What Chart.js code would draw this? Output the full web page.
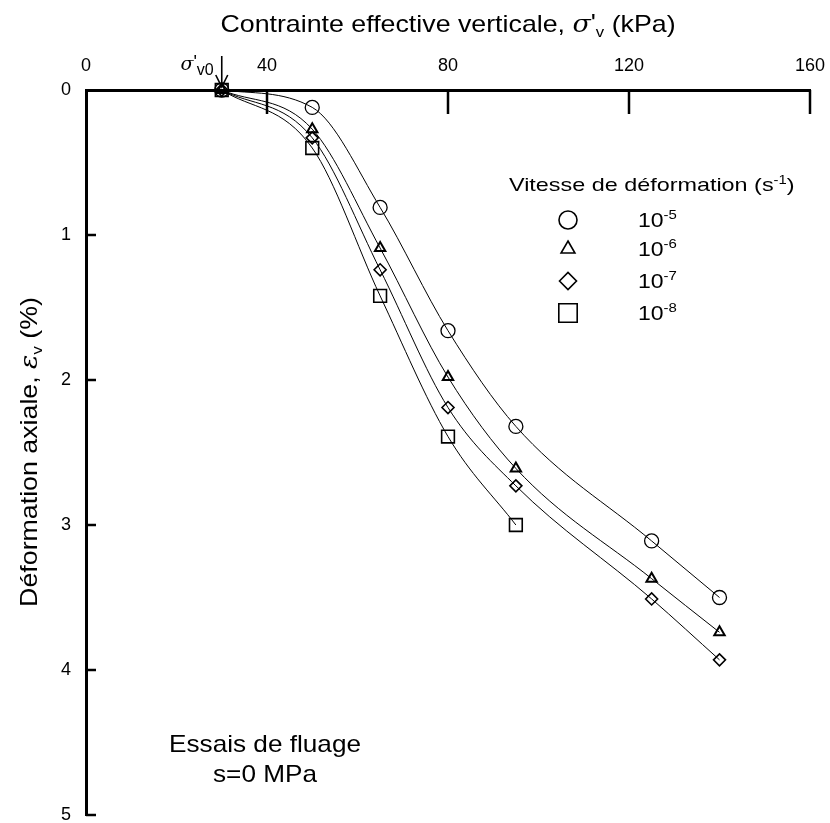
<!DOCTYPE html>
<html>
<head>
<meta charset="utf-8">
<script src="https://cdn.jsdelivr.net/npm/chart.js@4.4.1/dist/chart.umd.min.js"></script>
<style>
  html, body { margin: 0; padding: 0; background: #fff; }
  #wrap { width: 830px; height: 823px; }
</style>
</head>
<body>
<div id="wrap"><canvas id="chart" width="830" height="823"></canvas></div>
<script>
// data
const stress = [30, 50, 65, 80, 95, 125, 140];
const strainE5 = [0, 0.12, 0.81, 1.66, 2.32, 3.11, 3.50];
const strainE6 = [0, 0.27, 1.09, 1.98, 2.61, 3.37, 3.74];
const strainE7 = [0, 0.33, 1.24, 2.19, 2.73, 3.51, 3.93];
const strainE8 = [0, 0.40, 1.42, 2.39, 3.00];
const rateExp = ['-5', '-6', '-7', '-8'];
const xTicks = [0, 40, 80, 120, 160];
const yTicks = [0, 1, 2, 3, 4, 5];
const sigmaV0 = 30;

const FONT = '"Liberation Sans", Arial, sans-serif';
const SERIF_I = 'italic 24px "DejaVu Serif", serif';
const toPts = ys => ys.map((y, i) => ({ x: stress[i], y: y }));

const markers = [
  { style: 'circle', radius: 7, width: 1.3 },
  { style: 'triangle', radius: 6, width: 2 },
  { style: 'rectRot', radius: 6, width: 1.6 },
  { style: 'rect', radius: 9, width: 1.6 }
];
const series = [strainE5, strainE6, strainE7, strainE8];

const datasets = series.map((s, i) => ({
  label: '10' + rateExp[i],
  data: toPts(s),
  showLine: true,
  borderColor: '#000',
  borderWidth: 1,
  cubicInterpolationMode: 'monotone',
  pointStyle: markers[i].style,
  pointRadius: markers[i].radius,
  pointBorderWidth: markers[i].width,
  pointBorderColor: '#000',
  pointBackgroundColor: 'rgba(0,0,0,0)',
  clip: false
}));

// text made of pieces (sub/superscripts, italic), sx = horizontal stretch
function richText(ctx, parts, x, y, align, sx) {
  sx = sx || 1;
  let total = 0;
  parts.forEach(p => { ctx.font = p.font; total += ctx.measureText(p.t).width; });
  let cx = align === 'center' ? -total / 2 : (align === 'right' ? -total : 0);
  ctx.save();
  ctx.translate(x, y);
  ctx.scale(sx, 1);
  ctx.textAlign = 'left';
  ctx.textBaseline = 'alphabetic';
  parts.forEach(p => {
    ctx.font = p.font;
    ctx.fillText(p.t, cx, p.dy || 0);
    cx += ctx.measureText(p.t).width;
  });
  ctx.restore();
}

const decor = {
  id: 'decor',
  afterDraw(chart) {
    const ctx = chart.ctx;
    const xs = chart.scales.x, ys = chart.scales.y;
    ctx.save();
    ctx.fillStyle = '#000';
    ctx.strokeStyle = '#000';

    // inward ticks
    ctx.lineWidth = 2.5;
    xTicks.slice(1).forEach(v => {
      const px = xs.getPixelForValue(v);
      ctx.beginPath(); ctx.moveTo(px, ys.top); ctx.lineTo(px, ys.top + 24); ctx.stroke();
    });
    yTicks.slice(1).forEach(v => {
      const py = ys.getPixelForValue(v);
      ctx.beginPath(); ctx.moveTo(xs.left, py); ctx.lineTo(xs.left + 10, py); ctx.stroke();
    });

    // x title
    const big = '24px ' + FONT;
    richText(ctx, [
      { t: 'Contrainte effective verticale, ', font: big },
      { t: 'σ', font: SERIF_I },
      { t: "'", font: big, dy: -1 },
      { t: 'v', font: '15px ' + FONT, dy: 5 },
      { t: ' (kPa)', font: big }
    ], 448, 32, 'center', 1.115);

    // y title
    ctx.save();
    ctx.translate(37, 452);
    ctx.rotate(-Math.PI / 2);
    richText(ctx, [
      { t: 'Déformation axiale, ', font: big },
      { t: 'ε', font: SERIF_I },
      { t: 'v', font: '15px ' + FONT, dy: 5 },
      { t: ' (%)', font: big }
    ], 0, 0, 'center', 1.115);
    ctx.restore();

    // sigma'v0 marker
    const px0 = xs.getPixelForValue(sigmaV0);
    richText(ctx, [
      { t: 'σ', font: 'italic 19px "DejaVu Serif", serif' },
      { t: "'", font: '18px ' + FONT, dy: -2 },
      { t: 'v0', font: '16px ' + FONT, dy: 5 }
    ], px0 - 8, 70, 'right');
    ctx.lineWidth = 1.6;
    ctx.beginPath(); ctx.moveTo(px0, ys.top - 34); ctx.lineTo(px0, ys.top - 3); ctx.stroke();
    ctx.beginPath();
    ctx.moveTo(px0 - 6, ys.top - 15); ctx.lineTo(px0, ys.top - 3); ctx.lineTo(px0 + 6, ys.top - 15);
    ctx.stroke();

    // legend
    richText(ctx, [
      { t: 'Vitesse de déformation (s', font: '19px ' + FONT },
      { t: '-1', font: '12px ' + FONT, dy: -7 },
      { t: ')', font: '19px ' + FONT }
    ], 509, 191, 'left', 1.23);
    const rowY = [220, 249, 281, 313];
    const legMarks = [
      { pointStyle: 'circle', radius: 9, borderWidth: 1.6 },
      { pointStyle: 'triangle', radius: 8, borderWidth: 2.4 },
      { pointStyle: 'rectRot', radius: 8.5, borderWidth: 2.2 },
      { pointStyle: 'rect', radius: 13, borderWidth: 2 }
    ];
    rowY.forEach((yy, i) => {
      ctx.strokeStyle = '#000';
      ctx.fillStyle = 'rgba(0,0,0,0)';
      Chart.helpers.drawPoint(ctx, Object.assign({ rotation: 0 }, legMarks[i]), 568, yy);
      ctx.fillStyle = '#000';
      richText(ctx, [
        { t: '10', font: '20px ' + FONT },
        { t: rateExp[i], font: '13px ' + FONT, dy: -8 }
      ], 638, yy + 7, 'left', 1.15);
    });

    // note
    richText(ctx, [{ t: 'Essais de fluage', font: big }], 265, 752, 'center', 1.09);
    richText(ctx, [{ t: 's=0 MPa', font: big }], 265, 782, 'center', 1.09);

    ctx.restore();
  }
};

new Chart(document.getElementById('chart'), {
  type: 'scatter',
  data: { datasets: datasets },
  options: {
    responsive: false,
    animation: false,
    layout: { autoPadding: false, padding: { left: 0, top: 0, right: 20, bottom: 8 } },
    plugins: { legend: { display: false }, tooltip: { enabled: false } },
    scales: {
      x: {
        type: 'linear',
        position: 'top',
        min: 0, max: 160,
        afterBuildTicks: s => { s.ticks = xTicks.map(v => ({ value: v })); },
        afterFit: s => { s.height = 90; s.paddingLeft = 0; s.paddingRight = 0; },
        grid: { display: false, drawTicks: false },
        border: { display: true, width: 3, color: '#000' },
        ticks: { color: '#000', font: { family: FONT, size: 18 }, padding: 13 }
      },
      y: {
        type: 'linear',
        reverse: true,
        min: 0, max: 5,
        afterBuildTicks: s => { s.ticks = yTicks.map(v => ({ value: v })); },
        afterFit: s => { s.width = 86; s.paddingTop = 0; s.paddingBottom = 0; },
        grid: { display: false, drawTicks: false },
        border: { display: true, width: 3, color: '#000' },
        ticks: { color: '#000', font: { family: FONT, size: 18, lineHeight: 0.8 }, padding: 15 }
      }
    }
  },
  plugins: [decor]
});
</script>
</body>
</html>
